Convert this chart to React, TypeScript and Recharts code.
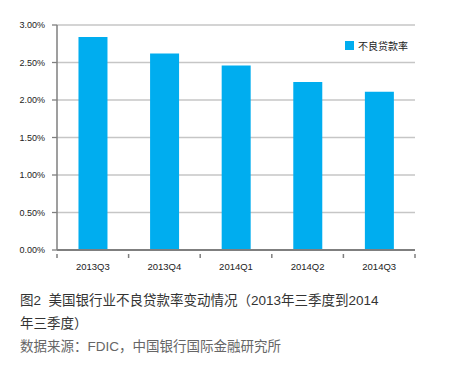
import React from 'react';
import { BarChart, Bar, XAxis, YAxis, CartesianGrid } from 'recharts';

// Quarter labels and non-performing loan ratio (%)
const quarters = ['2013Q3', '2013Q4', '2014Q1', '2014Q2', '2014Q3'];
const nplRatio = [2.84, 2.62, 2.46, 2.24, 2.11];
const yTicks = [0, 0.5, 1, 1.5, 2, 2.5, 3];

const seriesName = '不良贷款率';
const captionLines = ['图2  美国银行业不良贷款率变动情况（2013年三季度到2014', '年三季度）'];
const sourceLine = '数据来源：FDIC，中国银行国际金融研究所';

const data = quarters.map((q, i) => ({ quarter: q, value: nplRatio[i] }));

const FONT = '"Liberation Sans", Arial, "Noto Sans CJK SC", sans-serif';
const BLUE = '#00adef';
const AXIS = '#7f7f7f';

// x tick: label in the middle, tick mark at the category boundary
const QuarterTick = (props: any) => {
  const { x, y, payload, index, visibleTicksCount, width } = props;
  const half = width / (2 * visibleTicksCount);
  const last = index === visibleTicksCount - 1;
  return (
    <g>
      <line x1={x - half} x2={x - half} y1={y - 4} y2={y} stroke={AXIS} strokeWidth={1.5} />
      {last && <line x1={x + half} x2={x + half} y1={y - 4} y2={y} stroke={AXIS} strokeWidth={1.5} />}
      <text x={x} y={y + 12} textAnchor="middle" fill="#222" fontSize={9.5} fontFamily={FONT}>
        {payload.value}
      </text>
    </g>
  );
};

export default function App() {
  return (
    <div style={{ position: 'absolute', left: 0, top: 0, width: 456, height: 375, background: '#fff' }}>
      <BarChart
        width={456}
        height={275}
        data={data}
        margin={{ top: 25, right: 41, bottom: 0, left: 0 }}
        barCategoryGap="30%"
      >
        <CartesianGrid vertical={false} stroke="#c6c6c6" strokeWidth={1.3} />
        <XAxis
          dataKey="quarter"
          height={25}
          tickLine={false}
          axisLine={{ stroke: AXIS, strokeWidth: 2 }}
          tick={<QuarterTick />}
          interval={0}
        />
        <YAxis
          width={57}
          domain={[0, 3]}
          ticks={yTicks}
          tickFormatter={(v: number) => `${v.toFixed(2)}%`}
          axisLine={{ stroke: AXIS, strokeWidth: 1.5 }}
          tickLine={{ stroke: AXIS, strokeWidth: 1.3 }}
          tickSize={5}
          tickMargin={7}
          tick={{ fill: '#222', fontSize: 9, fontFamily: FONT }}
        />
        <Bar dataKey="value" name={seriesName} fill={BLUE} isAnimationActive={false} />
      </BarChart>
      <div
        style={{
          position: 'absolute',
          left: 345,
          top: 38,
          display: 'flex',
          alignItems: 'center',
          fontFamily: FONT,
          fontSize: 10,
          color: '#222',
        }}
      >
        <span style={{ display: 'inline-block', width: 9, height: 9, background: BLUE, marginRight: 4 }} />
        {seriesName}
      </div>
      <div
        style={{
          position: 'absolute',
          left: 20,
          top: 289,
          fontFamily: FONT,
          fontSize: 13.5,
          lineHeight: '23px',
          color: '#333',
          whiteSpace: 'pre',
        }}
      >
        {captionLines.map((l) => (
          <div key={l}>{l}</div>
        ))}
        <div style={{ color: '#666' }}>{sourceLine}</div>
      </div>
    </div>
  );
}
